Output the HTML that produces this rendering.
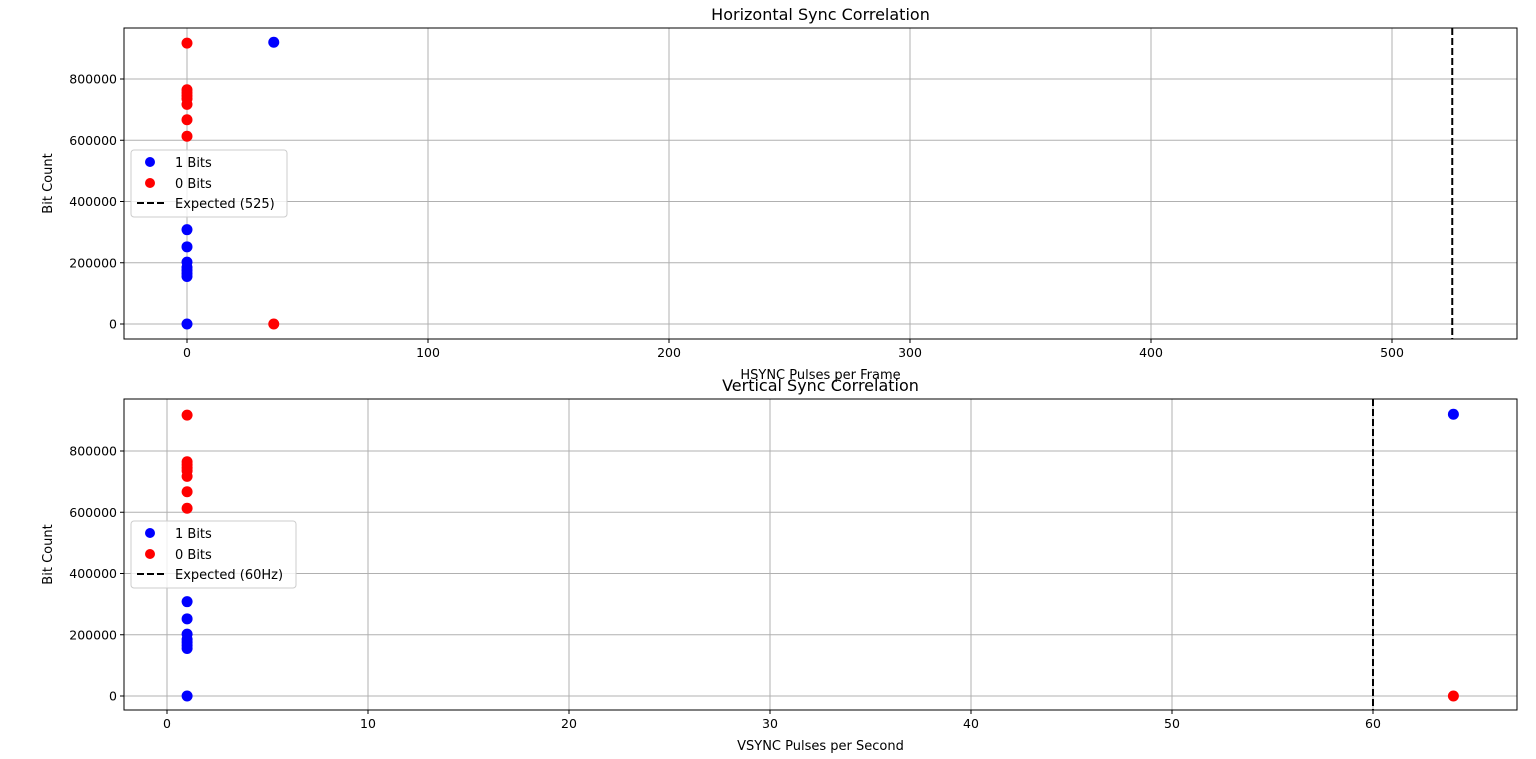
<!DOCTYPE html>
<html><head><meta charset="utf-8"><style>
body{margin:0;background:#fff;font-family:"Liberation Sans","DejaVu Sans",sans-serif}
svg text{font-family:"DejaVu Sans","Liberation Sans",sans-serif}
</style></head><body>
<svg id="c" width="1536" height="754" xmlns="http://www.w3.org/2000/svg"></svg>
<script>
const onesY = [308000, 252000, 202000, 185000, 175000, 165000, 155000, 0];
const zerosY = [917000, 765000, 755000, 745000, 735000, 717000, 667000, 613000];
const hsyncOnesX = [0, 36];
const hsyncOnesHigh = [920000];
const hsyncZerosLow = [0];
const hTicksX = [0, 100, 200, 300, 400, 500];
const vTicksX = [0, 10, 20, 30, 40, 50, 60];
const yTicks = [0, 200000, 400000, 600000, 800000];
const hExpected = 525;
const vExpected = 60;
const vOtherX = 64;
const hOtherX = 36;
const lowX = [0, 1];

const svg = document.getElementById('c');
const NS = 'http://www.w3.org/2000/svg';
function mk(tag, attrs, parent){const e=document.createElementNS(NS,tag);for(const k in attrs)e.setAttribute(k,attrs[k]);(parent||svg).appendChild(e);return e;}

function panel(cfg){
  const g = mk('g',{});
  
  
  const L=124,R=1517,T=cfg.top,B=cfg.top+311;
  const sx = v => cfg.x0px + (v - 0) * cfg.xscale;
  const sy = v => cfg.y0px - v * (245/800000);
  // grid
  cfg.xticks.forEach(t=>{const x=sx(t);
    const l=mk('line',{x1:x,x2:x,y1:T,y2:B,stroke:'#b0b0b0','stroke-width':1},g);
    
    mk('line',{x1:x,x2:x,y1:B,y2:B+4,stroke:'#000'},g);
    const tx=mk('text',{x:x,y:B+18,'font-size':12.5,'text-anchor':'middle'},g);tx.textContent=t;
    
  });
  yTicks.forEach(t=>{const y=sy(t);
    const l=mk('line',{x1:L,x2:R,y1:y,y2:y,stroke:'#b0b0b0','stroke-width':1},g);
    
    mk('line',{x1:L-4,x2:L,y1:y,y2:y,stroke:'#000'},g);
    const tx=mk('text',{x:L-7,y:y+4.5,'font-size':12.5,'text-anchor':'end'},g);tx.textContent=t;
    
  });
  // points
  const pts=[];
  zerosY.forEach(v=>pts.push([cfg.lowX,v,'#ff0000']));
  onesY.forEach(v=>pts.push([cfg.lowX,v,'#0000ff']));
  hsyncOnesHigh.forEach(v=>pts.push([cfg.otherX,v,'#0000ff']));
  hsyncZerosLow.forEach(v=>pts.push([cfg.otherX,v,'#ff0000']));
  pts.forEach(p=>{const c=mk('circle',{cx:sx(p[0]),cy:sy(p[1]),r:5.5,fill:p[2]},g);
    
    });
  const ex=sx(cfg.expected);
  const dl=mk('line',{x1:ex,x2:ex,y1:T,y2:B,stroke:'#000','stroke-width':2,'stroke-dasharray':'7,3'},g);
  
  mk('rect',{x:L,y:T,width:R-L,height:B-T,fill:'none',stroke:'#000','stroke-width':1},g);
  const ti=mk('text',{x:(L+R)/2,y:T-8,'font-size':16,'text-anchor':'middle'},g);ti.textContent=cfg.title;
  
  const xl=mk('text',{x:(L+R)/2,y:B+40,'font-size':13,'text-anchor':'middle'},g);xl.textContent=cfg.xlabel;
  
  const yl=mk('text',{x:0,y:0,'font-size':13,'text-anchor':'middle',transform:`translate(52,${(T+B)/2}) rotate(-90)`},g);yl.textContent='Bit Count';
  
  // legend
  const lg=mk('g',{},g);
  
  const ly=cfg.legendTop;
  mk('rect',{x:131,y:ly,width:cfg.legendW,height:67,rx:3,fill:'#fff','fill-opacity':0.8,stroke:'#ccc'},lg);
  mk('circle',{cx:150,cy:ly+12,r:5,fill:'#0000ff'},lg);
  mk('circle',{cx:150,cy:ly+33,r:5,fill:'#ff0000'},lg);
  mk('line',{x1:137,x2:164,y1:ly+53,y2:ly+53,stroke:'#000','stroke-width':2,'stroke-dasharray':'7,3'},lg);
  [['1 Bits',17],['0 Bits',38],[cfg.legendLabel,58]].forEach(a=>{const t=mk('text',{x:175,y:ly+a[1],'font-size':13},lg);t.textContent=a[0];
    });
}
panel({name:'horizontal-sync-chart',top:28,x0px:187,xscale:2.41,y0px:324,xticks:hTicksX,lowX:lowX[0],otherX:hOtherX,expected:hExpected,
  title:'Horizontal Sync Correlation',xlabel:'HSYNC Pulses per Frame',legendTop:150,legendW:156,legendLabel:'Expected (525)'});
panel({name:'vertical-sync-chart',top:399,x0px:167,xscale:20.1,y0px:696,xticks:vTicksX,lowX:lowX[1],otherX:vOtherX,expected:vExpected,
  title:'Vertical Sync Correlation',xlabel:'VSYNC Pulses per Second',legendTop:521,legendW:165,legendLabel:'Expected (60Hz)'});
</script>
</body></html>
